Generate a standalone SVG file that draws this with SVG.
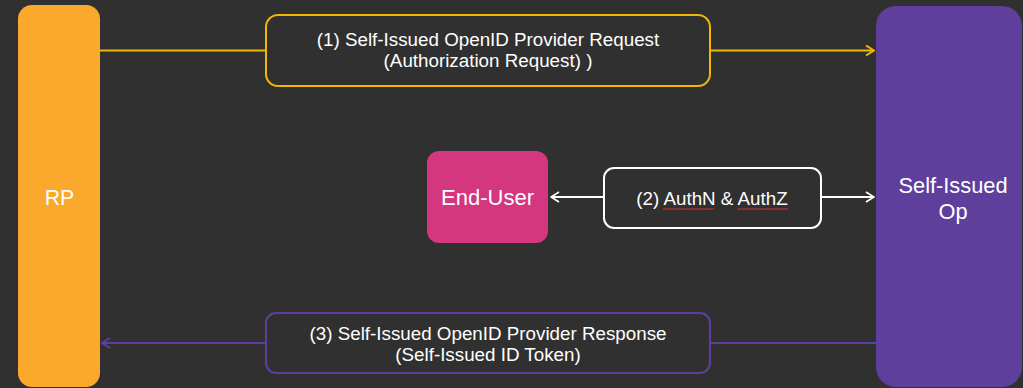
<svg xmlns="http://www.w3.org/2000/svg" width="1023" height="388" viewBox="0 0 1023 388">
  <defs>
    <style>
      .lbl { font-family: "Liberation Sans", Arial, sans-serif; fill: #ffffff; text-anchor: middle; }
      .msg { font-size: 18.8px; }
      .box { fill: #303030; stroke-width: 2; }
      .wire { fill: none; stroke-width: 2; }
      .squiggle { fill: none; stroke: #e0312c; stroke-width: 1; }
    </style>
    <marker id="arrowY" viewBox="0 0 10 12" refX="9" refY="6" markerWidth="10" markerHeight="12" markerUnits="userSpaceOnUse" orient="auto">
      <path d="M1,1 L9,6 L1,11" fill="none" stroke="#f2b705" stroke-width="2"/>
    </marker>
    <marker id="arrowW" viewBox="0 0 10 12" refX="9" refY="6" markerWidth="10" markerHeight="12" markerUnits="userSpaceOnUse" orient="auto">
      <path d="M1,1 L9,6 L1,11" fill="none" stroke="#ffffff" stroke-width="1.6"/>
    </marker>
    <marker id="arrowP" viewBox="0 0 10 12" refX="9" refY="6" markerWidth="10" markerHeight="12" markerUnits="userSpaceOnUse" orient="auto">
      <path d="M1,1 L9,6 L1,11" fill="none" stroke="#5e3fa0" stroke-width="2"/>
    </marker>
  </defs>

  <rect x="0" y="0" width="1023" height="388" fill="#303030"/>

  <!-- connectors -->
  <g id="connectors">
    <line class="wire" x1="100" y1="50.5" x2="266" y2="50.5" stroke="#f2b705"/>
    <line class="wire" x1="710" y1="50.5" x2="874" y2="50.5" stroke="#f2b705" marker-end="url(#arrowY)"/>
    <line class="wire" x1="604" y1="197" x2="551" y2="197" stroke="#ffffff" stroke-width="1.6" marker-end="url(#arrowW)"/>
    <line class="wire" x1="821" y1="197" x2="874" y2="197" stroke="#ffffff" stroke-width="1.6" marker-end="url(#arrowW)"/>
    <line class="wire" x1="876" y1="343" x2="710" y2="343" stroke="#5e3fa0"/>
    <line class="wire" x1="266" y1="343" x2="102" y2="343" stroke="#5e3fa0" marker-end="url(#arrowP)"/>
  </g>

  <!-- participants -->
  <g id="rp">
    <rect x="18" y="5" width="82" height="382" rx="14" fill="#fba92c"/>
    <text class="lbl" x="59.5" y="205" font-size="21.3">RP</text>
  </g>

  <g id="op">
    <rect x="876" y="6" width="146" height="381" rx="20" fill="#5e3f9c"/>
    <text class="lbl" x="953" y="192.5" font-size="21.8">Self-Issued</text>
    <text class="lbl" x="953" y="219" font-size="21.8">Op</text>
  </g>

  <g id="end-user">
    <rect x="427" y="151" width="121" height="92" rx="12" fill="#d4367f"/>
    <text class="lbl" x="487.5" y="205" font-size="22">End-User</text>
  </g>

  <!-- message boxes -->
  <g id="msg-request">
    <rect class="box" x="266" y="15" width="444" height="71" rx="12" stroke="#f2b705"/>
    <text class="lbl msg" x="488" y="46">(1) Self-Issued OpenID Provider Request</text>
    <text class="lbl msg" x="488" y="66.5">(Authorization Request) )</text>
  </g>

  <g id="msg-auth">
    <rect class="box" x="604" y="168" width="217" height="60" rx="10" stroke="#ffffff"/>
    <text class="lbl msg" x="712" y="205">(2) AuthN &amp; AuthZ</text>
    <path class="squiggle" d="M663,209.5 l1.5,-1 l1.5,1 l1.5,-1 l1.5,1 l1.5,-1 l1.5,1 l1.5,-1 l1.5,1 l1.5,-1 l1.5,1 l1.5,-1 l1.5,1 l1.5,-1 l1.5,1 l1.5,-1 l1.5,1 l1.5,-1 l1.5,1 l1.5,-1 l1.5,1 l1.5,-1 l1.5,1 l1.5,-1 l1.5,1 l1.5,-1 l1.5,1 l1.5,-1 l1.5,1 l1.5,-1 l1.5,1 l1.5,-1 l1.5,1 l1.5,-1 l1.5,1"/>
    <path class="squiggle" d="M737,209.5 l1.5,-1 l1.5,1 l1.5,-1 l1.5,1 l1.5,-1 l1.5,1 l1.5,-1 l1.5,1 l1.5,-1 l1.5,1 l1.5,-1 l1.5,1 l1.5,-1 l1.5,1 l1.5,-1 l1.5,1 l1.5,-1 l1.5,1 l1.5,-1 l1.5,1 l1.5,-1 l1.5,1 l1.5,-1 l1.5,1 l1.5,-1 l1.5,1 l1.5,-1 l1.5,1 l1.5,-1 l1.5,1 l1.5,-1 l1.5,1 l1.5,-1 l1.5,1"/>
  </g>

  <g id="msg-response">
    <rect class="box" x="266" y="313" width="444" height="60" rx="10" stroke="#5e3fa0"/>
    <text class="lbl msg" x="488" y="339.5">(3) Self-Issued OpenID Provider Response</text>
    <text class="lbl msg" x="488" y="361">(Self-Issued ID Token)</text>
  </g>
</svg>
